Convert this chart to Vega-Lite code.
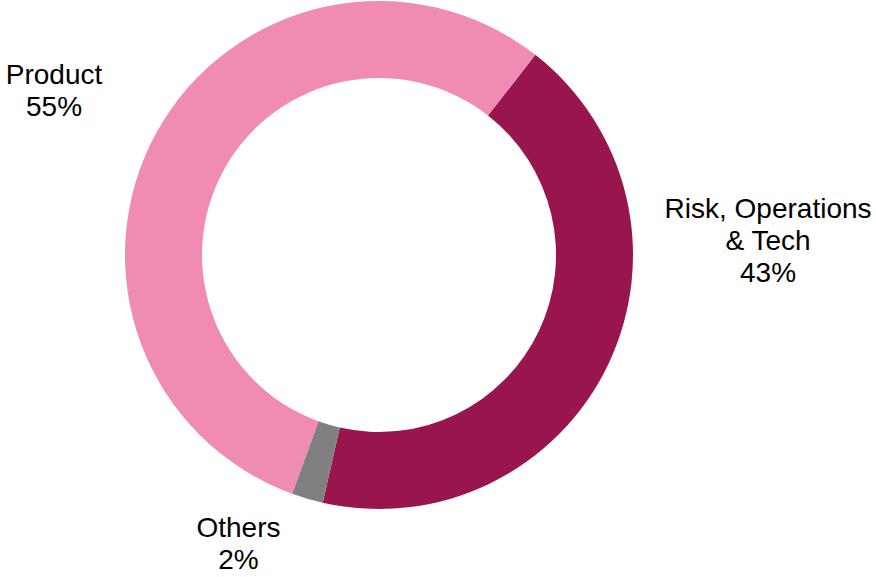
{
  "$schema": "https://vega.github.io/schema/vega-lite/v6.json",
  "width": 758,
  "height": 510,
  "autosize": {"type": "none"},
  "padding": {"left": 0, "top": 0, "right": 118, "bottom": 67},
  "background": "white",
  "config": {"view": {"stroke": null}},
  "layer": [
    {
      "data": {"values": [
        {"category": "Risk, Operations & Tech", "value": 43, "order": 1},
        {"category": "Others", "value": 2, "order": 2},
        {"category": "Product", "value": 55, "order": 3}
      ]},
      "mark": {"type": "arc", "outerRadius": 254, "innerRadius": 177, "stroke": null},
      "encoding": {
        "theta": {"field": "value", "type": "quantitative", "stack": true, "scale": {"range": [0.6632, 6.9464]}},
        "order": {"field": "order", "type": "quantitative"},
        "color": {"field": "category", "type": "nominal", "legend": null,
          "scale": {"domain": ["Risk, Operations & Tech", "Others", "Product"], "range": ["#99154E", "#808080", "#F08BB4"]}}
      }
    },
    {
      "data": {"values": [
        {"label": ["Product", "55%"], "angle": 297.75, "dist": 367.2},
        {"label": ["Risk, Operations", "& Tech", "43%"], "angle": 84.57, "dist": 390.8},
        {"label": ["Others", "2%"], "angle": 206.5, "dist": 315}
      ]},
      "mark": {"type": "text", "font": "Liberation Sans", "fontSize": 28, "lineHeight": 32, "align": "center", "baseline": "alphabetic", "color": "black"},
      "encoding": {
        "theta": {"field": "angle", "type": "quantitative", "stack": null, "scale": {"type": "linear", "domain": [0, 360], "range": [0, 6.2832]}},
        "radius": {"field": "dist", "type": "quantitative", "scale": {"type": "linear", "domain": [0, 400], "range": [0, 400], "zero": true}},
        "text": {"field": "label"}
      }
    }
  ],
  "resolve": {"scale": {"theta": "independent", "radius": "independent", "color": "independent"}}
}
